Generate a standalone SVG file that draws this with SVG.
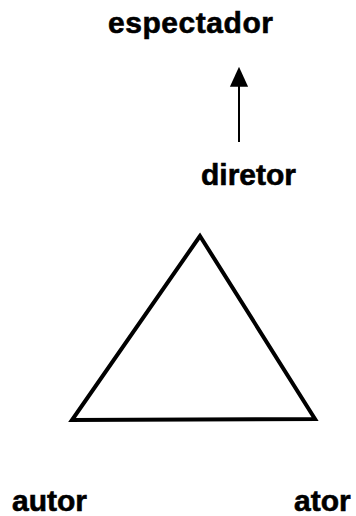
<svg xmlns="http://www.w3.org/2000/svg" width="356" height="516" viewBox="0 0 356 516">
<style>
.lbl{font-family:"Liberation Sans",Arial,sans-serif;font-weight:bold;font-size:30px;fill:#000;stroke:#000;stroke-width:0.6}
.edge{stroke:#000;fill:none;stroke-width:2}
</style>
<defs>
<marker id="ah" markerUnits="userSpaceOnUse" markerWidth="20" markerHeight="22" refX="2" refY="10" orient="auto" viewBox="0 0 22 20">
<path d="M0,0 L22,10 L0,20 Z" fill="#000"/>
</marker>
</defs>
<rect width="356" height="516" fill="#fff"/>
<g id="espectador"><text class="lbl" x="108" y="33" textLength="165" lengthAdjust="spacing">espectador</text></g>
<g id="diretor"><text class="lbl" x="201" y="185">diretor</text></g>
<g id="triangulo"><polygon points="200,236 72,420 315,419" fill="none" stroke="#000" stroke-width="4" stroke-linejoin="miter"/></g>
<g id="autor"><text class="lbl" x="12" y="511">autor</text></g>
<g id="ator"><text class="lbl" x="294" y="511">ator</text></g>
<g id="connectors">
<line class="edge" x1="239" y1="142" x2="239" y2="85" marker-end="url(#ah)"/>
</g>
</svg>
